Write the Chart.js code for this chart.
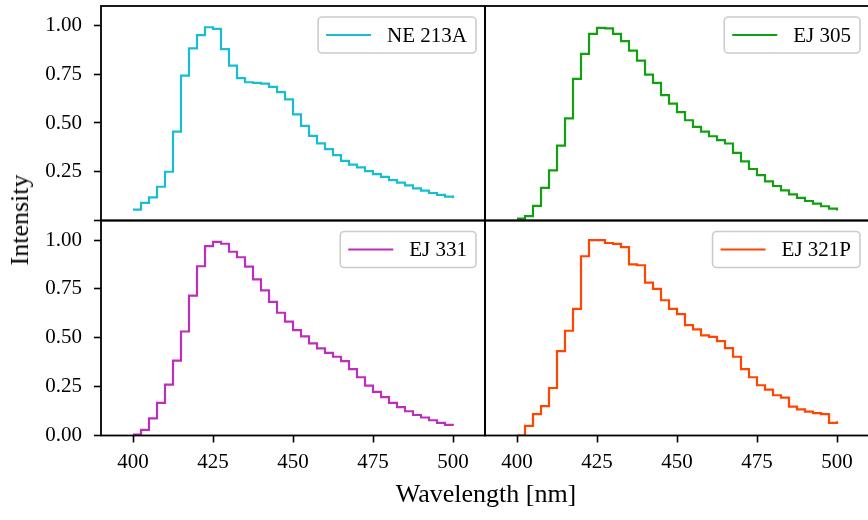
<!DOCTYPE html>
<html>
<head>
<meta charset="utf-8">
<script src="https://cdn.jsdelivr.net/npm/chart.js@4"></script>
<style>
    html, body { margin: 0; padding: 0; background: #fff; }
    #wrap { position: relative; width: 868px; height: 520px; overflow: hidden; background: #fff; }
    #wrap canvas { position: absolute; left: 0; top: 0; }
    .axis-label {
        position: absolute;
        font-family: "Liberation Serif", serif;
        font-size: 26px;
        line-height: 26px;
        color: #000;
        white-space: nowrap;
    }
    #xlabel { left: 486px; top: 481px; transform: translateX(-50%); }
    #ylabel { left: 20px; top: 220px; transform: translate(-50%, -50%) rotate(-90deg); }
</style>
</head>
<body>
<div id="wrap">
    <canvas id="panelTL" width="870" height="520"></canvas>
    <canvas id="panelTR" width="870" height="520"></canvas>
    <canvas id="panelBL" width="870" height="520"></canvas>
    <canvas id="panelBR" width="870" height="520"></canvas>
    <div class="axis-label" id="xlabel">Wavelength [nm]</div>
    <div class="axis-label" id="ylabel">Intensity</div>
</div>
<script>
// --- DATA ---
// Bin positions (nm) and normalised emission spectra.
const wavelengths = [400, 402.5, 405, 407.5, 410, 412.5, 415, 417.5, 420, 422.5,
    425, 427.5, 430, 432.5, 435, 437.5, 440, 442.5, 445, 447.5,
    450, 452.5, 455, 457.5, 460, 462.5, 465, 467.5, 470, 472.5,
    475, 477.5, 480, 482.5, 485, 487.5, 490, 492.5, 495, 497.5, 500];

const ne213a = [0.056, 0.090, 0.119, 0.173, 0.250, 0.456, 0.743, 0.883, 0.951, 0.991,
    0.983, 0.879, 0.794, 0.730, 0.709, 0.706, 0.702, 0.685, 0.658, 0.621,
    0.544, 0.485, 0.434, 0.396, 0.366, 0.335, 0.306, 0.287, 0.272, 0.253,
    0.238, 0.224, 0.207, 0.194, 0.180, 0.165, 0.153, 0.141, 0.131, 0.122, 0.114];

const ej305 = [0.010, 0.022, 0.075, 0.167, 0.257, 0.384, 0.524, 0.726, 0.854, 0.957,
    0.988, 0.985, 0.957, 0.920, 0.871, 0.820, 0.748, 0.706, 0.643, 0.599,
    0.556, 0.514, 0.480, 0.456, 0.432, 0.412, 0.395, 0.347, 0.303, 0.264,
    0.233, 0.201, 0.177, 0.155, 0.134, 0.116, 0.100, 0.087, 0.073, 0.061, 0.051];

const ej331 = [0.005, 0.029, 0.088, 0.167, 0.260, 0.383, 0.532, 0.716, 0.866, 0.969,
    0.991, 0.981, 0.940, 0.912, 0.864, 0.799, 0.743, 0.684, 0.628, 0.583,
    0.539, 0.507, 0.471, 0.446, 0.423, 0.403, 0.381, 0.340, 0.298, 0.255,
    0.223, 0.196, 0.167, 0.145, 0.124, 0.105, 0.092, 0.078, 0.065, 0.054, 0.051];

const ej321p = [0.000, 0.049, 0.109, 0.150, 0.243, 0.432, 0.536, 0.648, 0.917, 1.000,
    1.000, 0.985, 0.980, 0.964, 0.876, 0.871, 0.782, 0.750, 0.692, 0.648,
    0.621, 0.565, 0.543, 0.512, 0.505, 0.483, 0.447, 0.403, 0.340, 0.298,
    0.257, 0.235, 0.206, 0.194, 0.148, 0.134, 0.122, 0.114, 0.109, 0.065, 0.073];

const xTicks = [400, 425, 450, 475, 500];
const yTicks = [0, 0.25, 0.5, 0.75, 1.0];

const FONT = '"Liberation Serif", serif';

// Frame around each panel + legend box in the upper right corner
const panelDeco = {
    id: 'panelDeco',
    afterDatasetsDraw(chart) {
        const { ctx, chartArea } = chart;
        const ds = chart.data.datasets[0];
        ctx.save();

        // spines
        ctx.strokeStyle = '#000';
        ctx.lineWidth = 1.8;
        ctx.strokeRect(chartArea.left, chartArea.top, chartArea.right - chartArea.left, chartArea.bottom - chartArea.top);

        // legend
        ctx.font = '21px ' + FONT;
        const tw = ctx.measureText(ds.label).width;
        const w = 8 + 45 + 16 + tw + 9;
        const h = 36;
        const x = chartArea.right - 9 - w;
        const y = chartArea.top + 11;
        ctx.beginPath();
        ctx.roundRect(x, y, w, h, 4);
        ctx.fillStyle = 'rgba(255,255,255,0.8)';
        ctx.fill();
        ctx.strokeStyle = '#cccccc';
        ctx.lineWidth = 1.6;
        ctx.stroke();

        ctx.beginPath();
        ctx.moveTo(x + 8, y + h / 2);
        ctx.lineTo(x + 53, y + h / 2);
        ctx.strokeStyle = ds.borderColor;
        ctx.lineWidth = 2.2;
        ctx.stroke();

        ctx.fillStyle = '#000';
        ctx.textBaseline = 'middle';
        ctx.textAlign = 'left';
        ctx.fillText(ds.label, x + 69, y + h / 2 + 1);
        ctx.restore();
    }
};

function makePanel(canvasId, label, values, color, p) {
    const points = wavelengths.map((w, i) => ({ x: w, y: values[i] }));
    return new Chart(document.getElementById(canvasId), {
        type: 'line',
        data: {
            datasets: [{
                label: label,
                data: points,
                borderColor: color,
                borderWidth: 2.2,
                stepped: 'before',
                pointRadius: 0,
                fill: false
            }]
        },
        options: {
            responsive: false,
            animation: false,
            devicePixelRatio: 1,
            events: [],
            layout: { autoPadding: false, padding: p.padding },
            plugins: { legend: { display: false }, tooltip: { enabled: false } },
            scales: {
                x: {
                    type: 'linear',
                    min: 390,
                    max: 510,
                    display: p.showX,
                    afterBuildTicks: s => { s.ticks = xTicks.map(v => ({ value: v })); },
                    afterFit: s => {
                        s.height = p.showX ? 45 : 0;
                        s.paddingLeft = 0; s.paddingRight = 0;
                    },
                    border: { display: false },
                    grid: { drawOnChartArea: false, drawTicks: true, tickLength: 7, tickColor: '#000', tickWidth: 1.6 },
                    ticks: { color: '#000', padding: 7, font: { family: FONT, size: 21 }, maxRotation: 0,
                        callback: v => String(v) }
                },
                y: {
                    min: 0,
                    max: 1.1,
                    display: p.showY,
                    afterBuildTicks: s => { s.ticks = yTicks.map(v => ({ value: v })); },
                    afterFit: s => {
                        s.width = p.showY ? 60 : 0;
                        s.paddingTop = 0; s.paddingBottom = 0;
                    },
                    border: { display: false },
                    grid: { drawOnChartArea: false, drawTicks: true, tickLength: 7, tickColor: '#000', tickWidth: 1.6 },
                    ticks: { color: '#000', padding: 12, font: { family: FONT, size: 21 },
                        callback: v => (p.hideZero && v === 0) ? '' : v.toFixed(2) }
                }
            }
        },
        plugins: [panelDeco]
    });
}

// --- PANELS ---
makePanel('panelTL', 'NE 213A', ne213a, '#17becf',
    { showX: false, showY: true, hideZero: true, padding: { left: 41, top: 6, right: 385, bottom: 299.5 } });
makePanel('panelTR', 'EJ 305', ej305, '#12a012',
    { showX: false, showY: false, padding: { left: 485, top: 6, right: 1, bottom: 299.5 } });
makePanel('panelBL', 'EJ 331', ej331, '#bb2fbb',
    { showX: true, showY: true, hideZero: false, padding: { left: 41, top: 220.5, right: 385, bottom: 39.5 } });
makePanel('panelBR', 'EJ 321P', ej321p, '#ff4500',
    { showX: true, showY: false, padding: { left: 485, top: 220.5, right: 1, bottom: 39.5 } });
</script>
</body>
</html>
